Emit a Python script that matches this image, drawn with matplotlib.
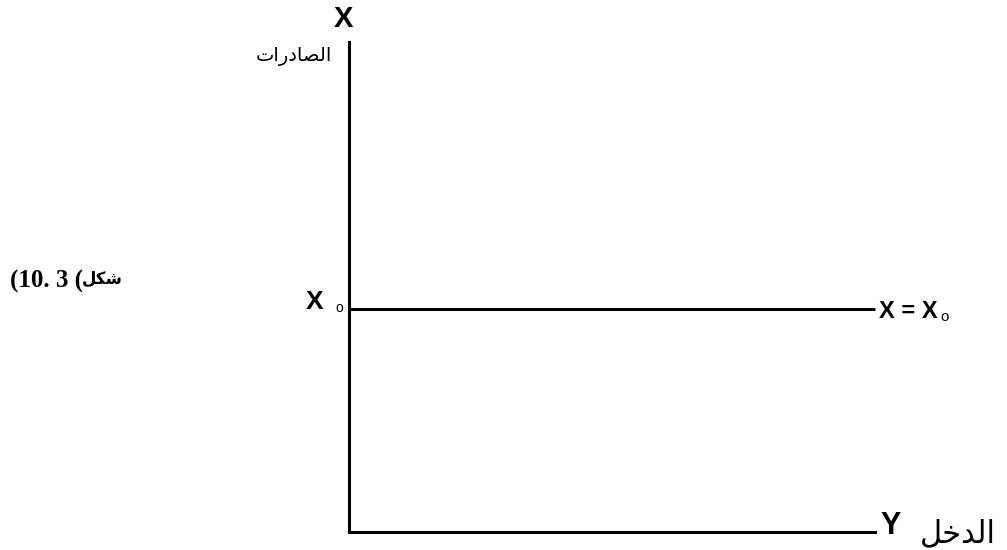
"""Recreation: exports function X = X0 (horizontal line against income Y)."""

import matplotlib

matplotlib.use("Agg")
import matplotlib.pyplot as plt

# Data: income axis range and the constant level of exports X0.
income = [0, 10]
exports = [4.55, 4.55]
axis_top = 10

# Labels (logical Arabic order; shaped below for display).
label_exports = "الصادرات"
label_income = "الدخل"
label_figure = "شكل"
figure_number = "(10. 3 ("

# Minimal Arabic shaping: letter -> (isolated, final, initial, medial).
FORMS = {
    "ا": ("\ufe8d", "\ufe8e", None, None),
    "ل": ("\ufedd", "\ufede", "\ufedf", "\ufee0"),
    "ص": ("\ufeb9", "\ufeba", "\ufebb", "\ufebc"),
    "د": ("\ufea9", "\ufeaa", None, None),
    "ر": ("\ufead", "\ufeae", None, None),
    "ت": ("\ufe95", "\ufe96", "\ufe97", "\ufe98"),
    "ش": ("\ufeb5", "\ufeb6", "\ufeb7", "\ufeb8"),
    "ك": ("\ufed9", "\ufeda", "\ufedb", "\ufedc"),
    "خ": ("\ufea5", "\ufea6", "\ufea7", "\ufea8"),
}


def joins_left(ch):
    return ch in FORMS and FORMS[ch][2] is not None


def shape(word):
    out = []
    for i, ch in enumerate(word):
        iso, fin, ini, med = FORMS[ch]
        prev_joins = i > 0 and joins_left(word[i - 1])
        next_ok = i + 1 < len(word) and word[i + 1] in FORMS and ini is not None
        if prev_joins and next_ok:
            out.append(med)
        elif prev_joins:
            out.append(fin)
        elif next_ok:
            out.append(ini)
        else:
            out.append(iso)
    return "".join(reversed(out))


fig = plt.figure(figsize=(10.07, 5.5), dpi=100)
ax = fig.add_axes([349 / 1007, 18 / 550, 526 / 1007, 490 / 550])

ax.set_xlim(income[0], income[1])
ax.set_ylim(0, axis_top)
for side in ("top", "right"):
    ax.spines[side].set_visible(False)
for side in ("left", "bottom"):
    ax.spines[side].set_linewidth(2.2)
    ax.spines[side].set_color("black")
ax.set_xticks([])
ax.set_yticks([])

# Exports line X = X0.
ax.plot(income, exports, color="black", linewidth=2.2, solid_capstyle="butt",
        clip_on=False)

sans = ["Liberation Sans", "DejaVu Sans"]

# Axis name at the top of the vertical axis.
ax.text(-0.1, axis_top + 0.18, "X", fontsize=21, family=sans, weight="bold",
        ha="center", va="bottom")
ax.text(-0.32, 9.71, shape(label_exports), fontsize=14, family="DejaVu Sans",
        ha="right", va="center")

# X0 mark on the vertical axis.
ax.text(-0.49, exports[0] + 0.14, "X", fontsize=19, family=sans, weight="bold",
        ha="right", va="center")
ax.text(-0.19, exports[0] + 0.02, "o", fontsize=10, family=sans,
        ha="center", va="center")

# Label at the end of the exports line.
ax.text(10.08, exports[0] - 0.06, "X = X", fontsize=17, family=sans,
        weight="bold", ha="left", va="center")
ax.text(11.32, exports[0] - 0.16, "o", fontsize=11, family=sans,
        ha="center", va="center")

# Income axis name.
ax.text(10.1, 0.12, "Y", fontsize=22, family=sans, weight="bold",
        ha="left", va="center")
ax.text(10.85, -0.04, shape(label_income), fontsize=22, family="DejaVu Sans",
        ha="left", va="center")

# Figure caption on the left.
fig.text(10 / 1007, 1 - 281 / 550, figure_number, fontsize=18,
         fontweight="bold", family="Liberation Serif", ha="left", va="center")
fig.text(123 / 1007, 1 - 279 / 550, shape(label_figure), fontsize=12,
         fontweight="bold", family="DejaVu Sans", ha="right", va="center")

fig.savefig("out.png", dpi=100)
